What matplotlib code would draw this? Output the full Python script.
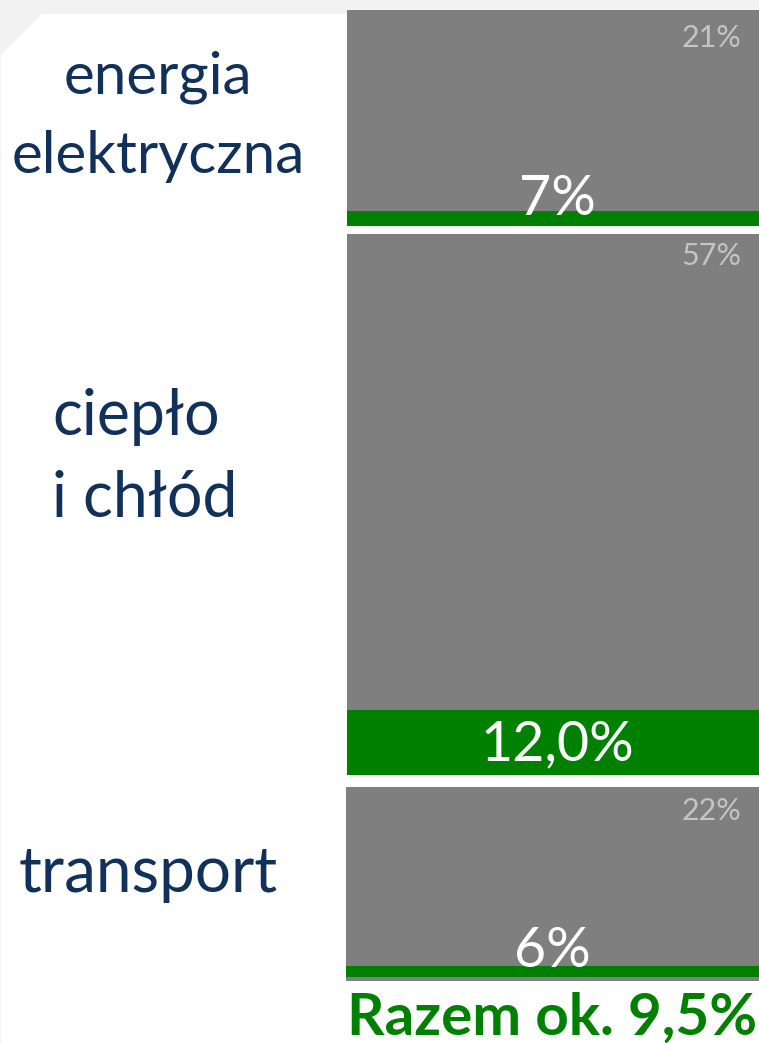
import matplotlib
matplotlib.use('Agg')
from matplotlib import pyplot as plt
from matplotlib.patches import Polygon

# data
categories = ['energia\nelektryczna', 'ciepło\ni chłód', 'transport']
shares = [21, 57, 22]            # share of each sector in total energy use (%)
res_share = [7, 12.0, 6]         # renewable share inside each sector (%)
res_labels = ['7%', '12,0%', '6%']
total_label = 'Razem ok. 9,5%'

W, H = 759, 1043
navy = '#12315a'
grey = '#7f7f7f'
green = '#008000'

plt.rcParams['font.family'] = ['Lato', 'DejaVu Sans']

fig = plt.figure(figsize=(W / 100, H / 100), dpi=100, facecolor='#f2f2f2')


def fx(x):
    return x / W


def fy(y):
    return 1 - y / H


# white panel with the cut corner (behind everything)
panel = Polygon([(fx(1), fy(55)), (fx(42), fy(14)), (fx(W), fy(14)),
                 (fx(W), 0), (fx(1), 0)], closed=True, zorder=-5,
                facecolor='white', edgecolor='none', transform=fig.transFigure)
fig.patches.append(panel)

# block position on the page (left, top, right, bottom) in pixels
boxes = [(347, 10, 759, 226), (347, 234, 759, 775), (346, 787, 759, 981)]
ymins = [0, 0, -2]

for i in range(3):
    l, t, r, b = boxes[i]
    ax = fig.add_axes([fx(l), fy(b), fx(r) - fx(l), fy(t) - fy(b)])
    ax.set_zorder(1)
    ax.bar(0, 100 - ymins[i], bottom=ymins[i], width=1, color=grey)
    ax.bar(0, res_share[i], width=1, color=green)
    ax.set_xlim(-0.5, 0.5)
    ax.set_ylim(ymins[i], 100)
    ax.axis('off')

# sector labels
fig.text(fx(158), fy(93), 'energia', color=navy, fontsize=42, ha='center', va='baseline')
fig.text(fx(158), fy(173), 'elektryczna', color=navy, fontsize=42, ha='center', va='baseline')
fig.text(fx(52), fy(435), 'ciepło', color=navy, fontsize=45, ha='left', va='baseline')
fig.text(fx(52), fy(517), 'i chłód', color=navy, fontsize=45, ha='left', va='baseline')
fig.text(fx(19), fy(892), 'transport', color=navy, fontsize=46, ha='left', va='baseline')

# share labels (top right of each block)
share_base = [47, 265, 820]
for i in range(3):
    fig.text(fx(741), fy(share_base[i]), f'{shares[i]}%', color='#c4c4c4',
             fontsize=22, ha='right', va='baseline', zorder=5)

# renewable labels
res_pos = [(557, 215), (557, 760), (552, 967)]
for i in range(3):
    x, y = res_pos[i]
    fig.text(fx(x), fy(y), res_labels[i], color='white', fontsize=40,
             ha='center', va='baseline', zorder=5)

fig.text(fx(552), fy(1035), total_label, color=green, fontsize=42,
         fontweight='bold', ha='center', va='baseline')

plt.savefig('out.png', dpi=100, facecolor=fig.get_facecolor())
